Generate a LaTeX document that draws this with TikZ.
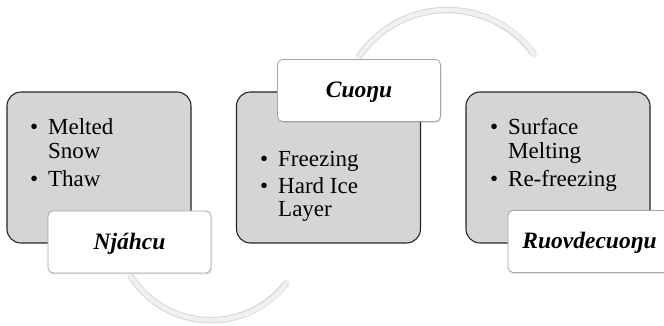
\documentclass[tikz,border=0pt]{standalone}
\usepackage{fontspec}
\setmainfont{Liberation Serif}
\usetikzlibrary{arrows.meta,shadows}
\definecolor{boxgray}{RGB}{212,213,215}
\definecolor{arcfill}{RGB}{240,240,240}
\definecolor{arcedge}{RGB}{215,215,215}
\begin{document}
\begin{tikzpicture}[x=1pt,y=1pt,
  stagebox/.style={draw=black!85, line width=1.1pt, fill=boxgray, rounded corners=14pt,
    minimum width=184pt, minimum height=151pt, inner sep=0pt},
  tagbox/.style={draw=black!35, line width=0.8pt, fill=white, rounded corners=5pt,
    minimum width=163pt, minimum height=62pt, inner sep=0pt, text height=19pt, text depth=4pt,
    font=\fontsize{23.5}{26}\selectfont\bfseries\itshape,
    drop shadow={opacity=0.22, shadow xshift=1pt, shadow yshift=-1.5pt}},
  itemtext/.style={anchor=base west, inner sep=0pt, font=\fontsize{23}{23.3}\selectfont},
  cycedge/.style={line width=6.5pt, draw=arcedge},
  cycline/.style={line width=4.5pt, draw=arcfill, -{Triangle[width=8pt,length=5pt]}}
]
\useasboundingbox (0,0) rectangle (664,326);
\newcommand{\bl}{\makebox[18pt][l]{\textbullet}}

% cycle arcs
\coordinate (arcAs) at (358,268);
\coordinate (arcBs) at (130,51);
\draw[cycedge, shift={(0.6,-1)}] (arcAs) arc[start angle=146.5, end angle=36, radius=107pt];
\draw[cycline] (arcAs) arc[start angle=146.5, end angle=33.5, radius=107pt];
\draw[cycedge, shift={(0.6,-1)}] (arcBs) arc[start angle=211.6, end angle=323, radius=95pt];
\draw[cycline] (arcBs) arc[start angle=211.6, end angle=325.5, radius=95pt];

% stage boxes
\node[stagebox] (box1) at (99,158.5) {};
\node[stagebox] (box2) at (328.5,158.5) {};
\node[stagebox] (box3) at (558,158.5) {};

% bullet texts
\node[itemtext] (list1) at (30,191) {\begin{tabular}[t]{@{}l@{}l@{}}\bl&Melted\\&Snow\\[5pt]\bl&Thaw\end{tabular}};
\node[itemtext] (list2) at (260,159) {\begin{tabular}[t]{@{}l@{}l@{}}\bl&Freezing\\[3pt]\bl&Hard Ice\\&Layer\end{tabular}};
\node[itemtext] (list3) at (490,191) {\begin{tabular}[t]{@{}l@{}l@{}}\bl&Surface\\&Melting\\[5pt]\bl&Re-freezing\end{tabular}};

% labels
\node[tagbox] (tag1) at (129.5,84) {Njáhcu};
\node[tagbox] (tag2) at (359,235.5) {Cuoŋu};
\node[tagbox] (tag3) at (589.5,84.5) {Ruovdecuoŋu};
\end{tikzpicture}
\end{document}
